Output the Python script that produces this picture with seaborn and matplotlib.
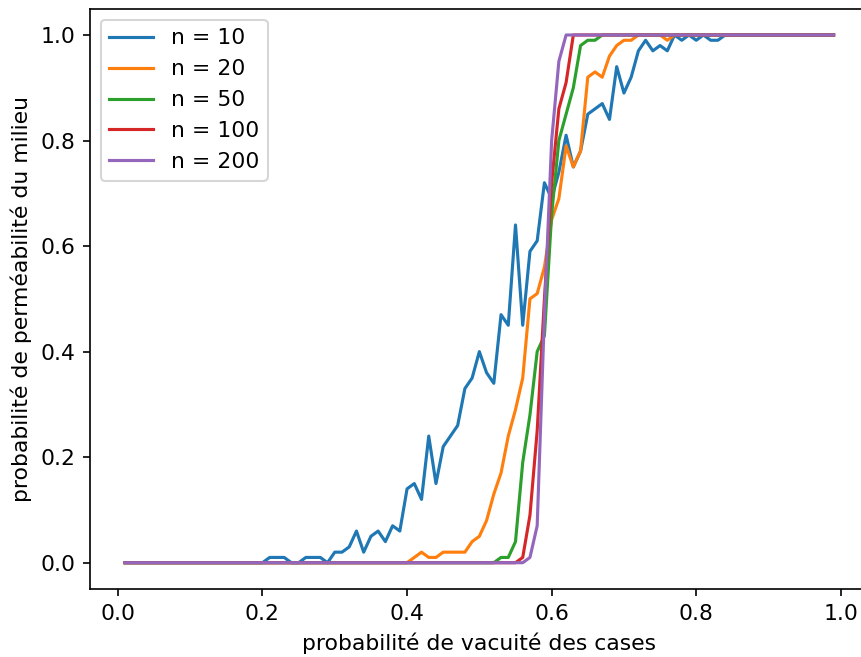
import numpy as np
import pandas as pd
import matplotlib
matplotlib.use("Agg")
import matplotlib.pyplot as plt
import seaborn as sns

# x grid: probability of empty cells, 0.01 .. 0.99
p = np.arange(1, 100) / 100

sizes = [10, 20, 50, 100, 200]

n10 = ([0.0] * 20 +
       [0.01, 0.01, 0.01, 0.0, 0.0, 0.01, 0.01, 0.01, 0.0, 0.02,
        0.02, 0.03, 0.06, 0.02, 0.05, 0.06, 0.04, 0.07, 0.06, 0.14,
        0.15, 0.12, 0.24, 0.15, 0.22, 0.24, 0.26, 0.33, 0.35, 0.40,
        0.36, 0.34, 0.47, 0.45, 0.64, 0.45, 0.59, 0.61, 0.72, 0.69,
        0.74, 0.81, 0.75, 0.78, 0.85, 0.86, 0.87, 0.84, 0.94, 0.89,
        0.92, 0.97, 0.99, 0.97, 0.98, 0.97, 1.0, 0.99, 1.0, 0.99,
        1.0, 0.99, 0.99] +
       [1.0] * 16)

n20 = ([0.0] * 40 +
       [0.01, 0.02, 0.01, 0.01, 0.02, 0.02, 0.02, 0.02, 0.04, 0.05,
        0.08, 0.13, 0.17, 0.24, 0.29, 0.35, 0.50, 0.51, 0.56, 0.65,
        0.69, 0.79, 0.75, 0.78, 0.92, 0.93, 0.92, 0.96, 0.98, 0.99,
        0.99, 1.0, 1.0, 1.0, 1.0, 0.99] +
       [1.0] * 23)

n50 = ([0.0] * 52 +
       [0.01, 0.01, 0.04, 0.19, 0.28, 0.40, 0.43, 0.66, 0.80, 0.85,
        0.90, 0.98, 0.99, 0.99] +
       [1.0] * 33)

n100 = ([0.0] * 55 +
        [0.01, 0.09, 0.25, 0.50, 0.72, 0.86, 0.91] +
        [1.0] * 37)

n200 = ([0.0] * 56 +
        [0.01, 0.07, 0.47, 0.80, 0.95] +
        [1.0] * 38)

series = [n10, n20, n50, n100, n200]
colors = ["#1f77b4", "#ff7f0e", "#2ca02c", "#d62728", "#9467bd"]

xlabel = "probabilité de vacuité des cases"
ylabel = "probabilité de perméabilité du milieu"

plt.rcParams["font.size"] = 10.5

dpi = 150
fig = plt.figure(figsize=(861 / dpi, 657 / dpi), dpi=dpi)
ax = fig.add_axes([89.7 / 861, (657 - 589.1) / 657, (869 - 89.7) / 861, (589.1 - 8.6) / 657])

for n, vals, c in zip(sizes, series, colors):
    df = pd.DataFrame({"p": p, "v": vals})
    sns.lineplot(data=df, x="p", y="v", color=c, label=f"n = {n}", ax=ax, linewidth=1.5)

ax.set_xlabel(xlabel)
ax.set_ylabel(ylabel)
ax.set_xticks([0.0, 0.2, 0.4, 0.6, 0.8, 1.0])
ax.set_yticks([0.0, 0.2, 0.4, 0.6, 0.8, 1.0])
ax.margins(0.05)
ax.legend(loc="upper left")

fig.savefig("out.png", dpi=dpi)
